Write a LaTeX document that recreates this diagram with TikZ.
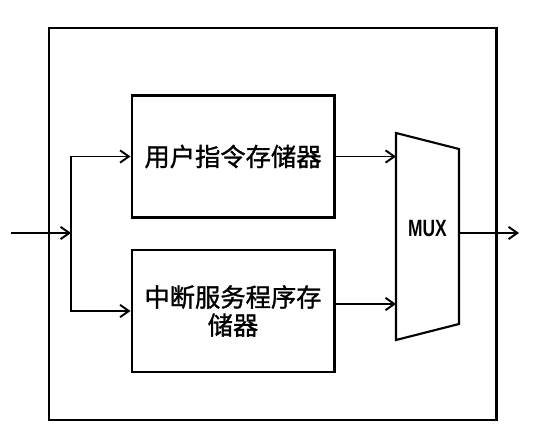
\documentclass[tikz,border=0pt]{standalone}
\usepackage{fontspec}
\newfontfamily\cjk[FakeBold=1.2]{Noto Sans CJK SC}
\newfontfamily\muxfont[FakeStretch=0.74]{Liberation Sans Bold}
\usepackage{tikz}
\usetikzlibrary{calc,arrows.meta}

\begin{document}
\begin{tikzpicture}[x=0.02cm,y=-0.02cm,
  memblock/.style={draw,line width=1.7pt,minimum width=202*0.02cm,minimum height=122*0.02cm,
    align=center,font=\cjk\fontsize{14.4}{16}\selectfont,inner sep=0pt},
  wire/.style={line width=1.1pt},
  arr/.style={wire,-{Straight Barb[length=5pt,width=7pt,line width=1.1pt]}}]
\useasboundingbox (0,0) rectangle (540,435);
\draw [line width=1.7pt] (49,28) rectangle (496,420);
\node [memblock] (user) at (233,156.5) {用户指令存储器};
\node [memblock] (isr) at (233,311) {中断服务程序存\\储器};
\coordinate (mtl) at (396,133);
\coordinate (mtr) at (459,149);
\coordinate (mbr) at (459,324);
\coordinate (mbl) at (396,340);
\draw [line width=1.2pt] (mtl) -- (mtr) -- (mbr) -- (mbl) -- cycle;
\node [font=\muxfont\fontsize{13.4}{15}\selectfont] (mux) at (427.5,229) {MUX};
\coordinate (in) at (11,233);
\coordinate (split) at (71,233);
\coordinate (muxin2) at (396,304);
\coordinate (muxout) at (459,233);
\coordinate (out) at (519,233);
\draw [arr] (in) -- (split);
\draw [arr] (split) |- (user.west);
\draw [arr] (split) |- (isr.west);
\draw [arr] (user.east) -- (user.east -| mtl);
\draw [arr] (muxin2 -| isr.east) -- (muxin2);
\draw [arr] (muxout) -- (out);
\end{tikzpicture}
\end{document}
